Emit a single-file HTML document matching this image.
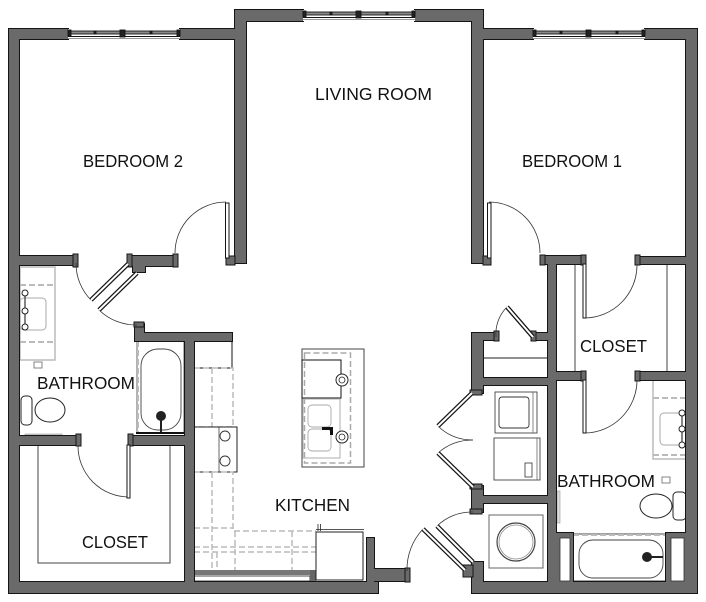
<!DOCTYPE html>
<html><head><meta charset="utf-8"><style>
html,body{margin:0;padding:0;background:#fff;}
svg{display:block;}
text{font-family:"Liberation Sans",sans-serif;font-size:17.5px;fill:#111;}
</style></head><body>
<svg width="706" height="602" viewBox="0 0 706 602" xmlns="http://www.w3.org/2000/svg">
<rect x="0" y="0" width="706" height="602" fill="#fff"/>

<!-- ============ KITCHEN / FIXTURES (under walls) ============ -->
<g fill="none">
  <!-- left bathroom vanity -->
  <rect x="20" y="267" width="35" height="93" fill="#fff" stroke="#bbb" stroke-width="1.5"/>
  <line x1="20" y1="285" x2="55" y2="285" stroke="#bbb" stroke-width="2" stroke-dasharray="6 3"/>
  <line x1="20" y1="342" x2="55" y2="342" stroke="#bbb" stroke-width="2" stroke-dasharray="6 3"/>
  <rect x="20" y="298" width="26" height="32" rx="4" stroke="#aaa" stroke-width="1"/>
  <line x1="25" y1="293" x2="25" y2="327" stroke="#333" stroke-width="1.2"/>
  <circle cx="25" cy="293" r="3" stroke="#222" stroke-width="1" fill="#fff"/>
  <circle cx="25" cy="311" r="3" stroke="#222" stroke-width="1" fill="#fff"/>
  <circle cx="25" cy="327" r="3" stroke="#222" stroke-width="1" fill="#fff"/>
  <rect x="34" y="362" width="8" height="6" stroke="#666" stroke-width="0.8"/>
  <!-- left toilet -->
  <rect x="21" y="396" width="11" height="29" rx="4" fill="#fff" stroke="#222" stroke-width="1"/>
  <ellipse cx="50" cy="410" rx="15" ry="12" fill="#fff" stroke="#222" stroke-width="1"/>
  <rect x="25" y="434" width="37" height="3" fill="#ccc" stroke="#999" stroke-width="0.6"/>

  <!-- left tub -->
  <rect x="137" y="341" width="47" height="92" fill="#fff" stroke="#666" stroke-width="1"/>
  <line x1="138" y1="341" x2="138" y2="433" stroke="#bbb" stroke-width="2" stroke-dasharray="6 3"/>
  <rect x="141" y="349" width="40" height="81" rx="17" stroke="#444" stroke-width="0.9"/>
  <circle cx="161" cy="416" r="5" fill="#222"/>
  <line x1="161" y1="420" x2="161" y2="432" stroke="#222" stroke-width="2"/>
  <line x1="136" y1="433" x2="185" y2="433" stroke="#111" stroke-width="2"/>

  <!-- closet left shelves -->
  <polyline points="38,445 38,563 170,563 170,445" stroke="#444" stroke-width="1"/>

  <!-- kitchen fridge -->
  <rect x="194" y="341" width="38" height="27" fill="#fff" stroke="#111" stroke-width="1"/>
  <!-- upper run -->
  <rect x="194" y="368" width="39" height="59" stroke="#bbb" stroke-width="1.5" stroke-dasharray="6 3"/>
  <line x1="212" y1="368" x2="212" y2="427" stroke="#bbb" stroke-width="1.5" stroke-dasharray="6 3"/>
  <!-- range -->
  <rect x="194" y="427" width="43" height="45" fill="#fff" stroke="#222" stroke-width="1"/>
  <line x1="219" y1="427" x2="219" y2="472" stroke="#444" stroke-width="0.8"/>
  <circle cx="225" cy="436" r="5" stroke="#333" stroke-width="0.9"/>
  <circle cx="225" cy="461" r="5" stroke="#333" stroke-width="0.9"/>
  <!-- lower run -->
  <path d="M194,472 H233 V531 H316" stroke="#bbb" stroke-width="1.5" stroke-dasharray="6 3"/>
  <line x1="212" y1="472" x2="212" y2="570" stroke="#bbb" stroke-width="1.5" stroke-dasharray="6 3"/>
  <line x1="194" y1="528" x2="233" y2="528" stroke="#bbb" stroke-width="1.5" stroke-dasharray="6 3"/>
  <line x1="194" y1="547" x2="316" y2="547" stroke="#bbb" stroke-width="1.5" stroke-dasharray="6 3"/>
  <line x1="194" y1="552" x2="316" y2="552" stroke="#bbb" stroke-width="1.5" stroke-dasharray="6 3"/>
  <line x1="217" y1="552" x2="217" y2="570" stroke="#bbb" stroke-width="1.5" stroke-dasharray="6 3"/>
  <line x1="235" y1="531" x2="235" y2="570" stroke="#bbb" stroke-width="1.5" stroke-dasharray="6 3"/>
  <line x1="292" y1="531" x2="292" y2="570" stroke="#bbb" stroke-width="1.5" stroke-dasharray="6 3"/>
  <rect x="194" y="570" width="122" height="5" fill="#777" stroke="none"/>
  <rect x="194" y="576" width="116" height="5" fill="#fff" stroke="#222" stroke-width="0.8"/>
  <rect x="310" y="570" width="6" height="12" fill="#666"/>
  <!-- dishwasher -->
  <rect x="316" y="532" width="47" height="48" fill="#fff" stroke="#222" stroke-width="1"/>
  <line x1="316" y1="529.5" x2="364" y2="529.5" stroke="#555" stroke-width="1"/>
  <line x1="318" y1="524" x2="318" y2="531" stroke="#222" stroke-width="0.8"/>
  <line x1="320.5" y1="524" x2="320.5" y2="531" stroke="#222" stroke-width="0.8"/>

  <!-- island -->
  <rect x="302" y="349" width="62" height="118" fill="#fff" stroke="#444" stroke-width="1"/>
  <rect x="304.5" y="353" width="46" height="110" stroke="#aaa" stroke-width="1.5" stroke-dasharray="6 3"/>
  <rect x="302" y="360" width="39" height="38" stroke="#111" stroke-width="1"/>
  <rect x="303" y="399" width="37" height="59" stroke="#bbb" stroke-width="1.2"/>
  <rect x="308" y="405" width="23" height="22" rx="4" stroke="#aaa" stroke-width="0.9"/>
  <rect x="308" y="429" width="23" height="22" rx="4" stroke="#aaa" stroke-width="0.9"/>
  <circle cx="342" cy="380" r="6" fill="#fff" stroke="#222" stroke-width="1"/>
  <circle cx="342" cy="380" r="3" stroke="#222" stroke-width="0.8"/>
  <circle cx="342" cy="437" r="6" fill="#fff" stroke="#222" stroke-width="1"/>
  <circle cx="342" cy="437" r="3" stroke="#222" stroke-width="0.8"/>
  <rect x="322" y="427" width="11" height="3" fill="#111"/>
  <rect x="330" y="427" width="3" height="8" fill="#111"/>

  <!-- laundry -->
  <line x1="483" y1="358" x2="548" y2="358" stroke="#222" stroke-width="1"/>
  <rect x="495" y="392" width="42" height="41" fill="#fff" stroke="#444" stroke-width="0.9"/>
  <rect x="499" y="397" width="30" height="31" rx="3" stroke="#333" stroke-width="0.9"/>
  <line x1="533" y1="392" x2="533" y2="433" stroke="#666" stroke-width="0.8"/>
  <rect x="494" y="438" width="46" height="42" fill="#fff" stroke="#444" stroke-width="0.9"/>
  <line x1="537" y1="438" x2="537" y2="480" stroke="#666" stroke-width="0.8"/>
  <rect x="525" y="463" width="7" height="14" stroke="#333" stroke-width="0.8"/>
  <!-- water heater -->
  <rect x="489" y="515" width="54" height="53" fill="#fff" stroke="#666" stroke-width="1"/>
  <circle cx="516" cy="542" r="19" stroke="#444" stroke-width="1.2"/>
  <circle cx="516" cy="542" r="17" stroke="#888" stroke-width="0.8"/>

  <!-- right closet shelves -->
  <line x1="575" y1="264" x2="575" y2="372" stroke="#444" stroke-width="1"/>
  <line x1="667" y1="264" x2="667" y2="372" stroke="#444" stroke-width="1"/>

  <!-- right bathroom vanity -->
  <path d="M687,380 H653 V459 H687" fill="#fff" stroke="#bbb" stroke-width="1.5"/>
  <line x1="653" y1="398" x2="687" y2="398" stroke="#bbb" stroke-width="2" stroke-dasharray="6 3"/>
  <line x1="653" y1="455" x2="687" y2="455" stroke="#bbb" stroke-width="2" stroke-dasharray="6 3"/>
  <rect x="660" y="413" width="22" height="32" rx="4" stroke="#aaa" stroke-width="1"/>
  <line x1="682" y1="413" x2="682" y2="445" stroke="#333" stroke-width="1.2"/>
  <circle cx="682" cy="413" r="3" stroke="#222" stroke-width="1" fill="#fff"/>
  <circle cx="682" cy="429" r="3" stroke="#222" stroke-width="1" fill="#fff"/>
  <circle cx="682" cy="445" r="3" stroke="#222" stroke-width="1" fill="#fff"/>
  <rect x="662" y="477" width="8" height="6" stroke="#666" stroke-width="0.8"/>
  <!-- right toilet -->
  <rect x="673" y="492" width="13" height="28" rx="4" fill="#fff" stroke="#222" stroke-width="1"/>
  <ellipse cx="656" cy="506" rx="16" ry="12" fill="#fff" stroke="#222" stroke-width="1"/>
  <rect x="557" y="491" width="3" height="32" fill="#ddd" stroke="#999" stroke-width="0.6"/>
  <!-- right tub -->
  <rect x="573" y="534" width="93" height="47" fill="#fff" stroke="#444" stroke-width="1"/>
  <line x1="573" y1="535" x2="666" y2="535" stroke="#bbb" stroke-width="2" stroke-dasharray="6 3"/>
  <rect x="579" y="540" width="84" height="38" rx="14" stroke="#444" stroke-width="0.9"/>
  <circle cx="647" cy="557" r="5" fill="#222"/>
  <line x1="651" y1="557" x2="663" y2="557" stroke="#222" stroke-width="2"/>
</g>

<!-- ============ WALLS ============ -->
<defs>
<g id="w">
  <rect x="9" y="29" width="10" height="564"/>
  <rect x="9" y="29" width="59" height="10"/>
  <rect x="180" y="29" width="66" height="10"/>
  <rect x="235" y="10" width="11" height="253"/>
  <rect x="235" y="10" width="68" height="11"/>
  <rect x="415" y="10" width="68" height="11"/>
  <rect x="472" y="10" width="11" height="253"/>
  <rect x="472" y="29" width="61" height="10"/>
  <rect x="645" y="29" width="52" height="10"/>
  <rect x="686" y="29" width="11" height="564"/>
  <rect x="9" y="582" width="369" height="11"/>
  <rect x="367" y="538" width="7" height="55"/>
  <rect x="374" y="569" width="34" height="12"/>
  <rect x="472" y="582" width="225" height="11"/>
  <rect x="472" y="562" width="11" height="31"/>
  <rect x="19" y="256" width="57" height="9"/>
  <rect x="128" y="256" width="48" height="10"/>
  <rect x="133" y="265" width="12" height="7"/>
  <rect x="135" y="324" width="9" height="17"/>
  <rect x="135" y="333" width="97" height="8"/>
  <rect x="185" y="333" width="9" height="249"/>
  <rect x="19" y="436" width="60" height="9"/>
  <rect x="130" y="436" width="57" height="9"/>
  <rect x="541" y="256" width="42" height="8"/>
  <rect x="637" y="257" width="50" height="7"/>
  <rect x="548" y="256" width="8" height="326"/>
  <rect x="556" y="372" width="27" height="8"/>
  <rect x="637" y="372" width="50" height="8"/>
  <rect x="472" y="333" width="11" height="60"/>
  <rect x="483" y="333" width="14" height="7"/>
  <rect x="533" y="333" width="15" height="7"/>
  <rect x="472" y="378" width="83" height="7"/>
  <rect x="472" y="486" width="11" height="26"/>
  <rect x="483" y="496" width="65" height="7"/>
  <rect x="556" y="533" width="17" height="49"/>
  <rect x="666" y="533" width="21" height="49"/>
</g>
</defs>
<use href="#w" fill="#6a6a6a" stroke="#151515" stroke-width="2"/>
<use href="#w" fill="#6a6a6a" stroke="none"/>
<!-- white insets in tub stubs -->
<rect x="560" y="538" width="10" height="43" fill="#fff" stroke="#333" stroke-width="0.8"/>
<rect x="671" y="538" width="13" height="43" fill="#fff" stroke="#333" stroke-width="0.8"/>

<!-- door jamb caps -->
<g fill="#6a6a6a" stroke="#151515" stroke-width="1">
  <rect x="73" y="254" width="5" height="13"/>
  <rect x="127" y="254" width="5" height="13"/>
  <rect x="173" y="254" width="5" height="13"/>
  <rect x="226" y="256" width="9" height="9"/>
  <rect x="483" y="256" width="8" height="9"/>
  <rect x="540" y="255" width="5" height="10"/>
  <rect x="581" y="255" width="5" height="10"/>
  <rect x="635" y="255" width="5" height="10"/>
  <rect x="581" y="371" width="5" height="10"/>
  <rect x="635" y="371" width="5" height="10"/>
  <rect x="76" y="434" width="5" height="12"/>
  <rect x="128" y="434" width="5" height="12"/>
  <rect x="134" y="322" width="10" height="5"/>
  <rect x="494" y="331" width="5" height="10"/>
  <rect x="531" y="331" width="5" height="10"/>
  <rect x="470" y="390" width="12" height="5"/>
  <rect x="470" y="484" width="12" height="5"/>
  <rect x="470" y="509" width="12" height="5"/>
  <rect x="405" y="568" width="5" height="14"/>
  <rect x="463" y="565" width="10" height="12"/>
</g>

<!-- ============ WINDOWS ============ -->
<g stroke="#151515" stroke-width="0.9">
  <rect x="68" y="29" width="112" height="10" fill="#fff" stroke="none"/>
  <rect x="68" y="31" width="112" height="3" fill="#888"/>
  <line x1="68" y1="36.5" x2="180" y2="36.5"/>
  <line x1="68" y1="38.5" x2="180" y2="38.5" stroke="#999"/>
  <rect x="68" y="30" width="3" height="6" fill="#222"/>
  <rect x="177" y="30" width="3" height="6" fill="#222"/>
  <rect x="120" y="30" width="5" height="7" fill="#222"/>
  <rect x="94" y="31" width="2" height="3" fill="#222"/>
  <rect x="150" y="31" width="2" height="3" fill="#222"/>

  <rect x="303" y="10" width="112" height="11" fill="#fff" stroke="none"/>
  <rect x="303" y="12" width="112" height="3" fill="#888"/>
  <line x1="303" y1="17.5" x2="415" y2="17.5"/>
  <line x1="303" y1="19.5" x2="415" y2="19.5" stroke="#999"/>
  <rect x="303" y="11" width="3" height="6" fill="#222"/>
  <rect x="412" y="11" width="3" height="6" fill="#222"/>
  <rect x="356" y="11" width="5" height="7" fill="#222"/>
  <rect x="330" y="12" width="2" height="3" fill="#222"/>
  <rect x="386" y="12" width="2" height="3" fill="#222"/>

  <rect x="533" y="29" width="112" height="10" fill="#fff" stroke="none"/>
  <rect x="533" y="31" width="112" height="3" fill="#888"/>
  <line x1="533" y1="36.5" x2="645" y2="36.5"/>
  <line x1="533" y1="38.5" x2="645" y2="38.5" stroke="#999"/>
  <rect x="533" y="30" width="3" height="6" fill="#222"/>
  <rect x="642" y="30" width="3" height="6" fill="#222"/>
  <rect x="586" y="30" width="5" height="7" fill="#222"/>
  <rect x="560" y="31" width="2" height="3" fill="#222"/>
  <rect x="616" y="31" width="2" height="3" fill="#222"/>
</g>

<!-- ============ DOORS ============ -->
<g fill="none" stroke="#333" stroke-width="0.8">
  <path d="M226,202 A51,51 0 0,0 175,253"/>
  <path d="M489,202 A51,51 0 0,1 540,253"/>
  <path d="M76,263 A52,52 0 0,0 91,300"/>
  <path d="M99,310 A53,53 0 0,0 137,325"/>
  <path d="M129,497 A51,51 0 0,1 78,446"/>
  <path d="M585,318 A53,53 0 0,0 637,265"/>
  <path d="M585,433 A53,53 0 0,0 637,381"/>
  <path d="M507,307 A38,38 0 0,0 496,337"/>
  <path d="M438,426 C448,436 460,440 473,440"/>
  <path d="M438,453 C448,444 460,440 473,440"/>
  <path d="M473,512 A50,50 0 0,0 437,526"/>
  <path d="M423,529 A59,59 0 0,0 407,571"/>
</g>
<g fill="#fff" stroke="#151515" stroke-width="1">
  <rect x="225.5" y="203" width="3.5" height="55"/>
  <rect x="487.5" y="203" width="3.5" height="55"/>
  <rect x="127" y="445" width="3" height="53"/>
  <rect x="583" y="264" width="3" height="54"/>
  <rect x="583" y="380" width="3" height="53"/>
</g>
<g stroke-linecap="butt">
  <g stroke="#151515" stroke-width="4.5">
    <line x1="128" y1="264" x2="91" y2="300"/>
    <line x1="137" y1="273" x2="99" y2="310"/>
    <line x1="533" y1="337" x2="507" y2="307"/>
    <line x1="472" y1="393" x2="438" y2="426"/>
    <line x1="473" y1="487" x2="438" y2="453"/>
    <line x1="473" y1="562" x2="437" y2="526"/>
    <line x1="465" y1="570" x2="423" y2="529"/>
  </g>
  <g stroke="#fff" stroke-width="2">
    <line x1="128" y1="264" x2="91" y2="300"/>
    <line x1="137" y1="273" x2="99" y2="310"/>
    <line x1="533" y1="337" x2="507" y2="307"/>
    <line x1="472" y1="393" x2="438" y2="426"/>
    <line x1="473" y1="487" x2="438" y2="453"/>
    <line x1="473" y1="562" x2="437" y2="526"/>
    <line x1="465" y1="570" x2="423" y2="529"/>
  </g>
</g>

<!-- ============ LABELS ============ -->
<text x="83" y="167" textLength="100" lengthAdjust="spacingAndGlyphs">BEDROOM 2</text>
<text x="315" y="100" textLength="117" lengthAdjust="spacingAndGlyphs">LIVING ROOM</text>
<text x="522" y="167" textLength="100" lengthAdjust="spacingAndGlyphs">BEDROOM 1</text>
<text x="37" y="389" textLength="98" lengthAdjust="spacingAndGlyphs">BATHROOM</text>
<text x="82" y="548" textLength="66" lengthAdjust="spacingAndGlyphs">CLOSET</text>
<text x="275" y="511" textLength="75" lengthAdjust="spacingAndGlyphs">KITCHEN</text>
<text x="580" y="352" textLength="67" lengthAdjust="spacingAndGlyphs">CLOSET</text>
<text x="557" y="487" textLength="98" lengthAdjust="spacingAndGlyphs">BATHROOM</text>
</svg>
</body></html>
